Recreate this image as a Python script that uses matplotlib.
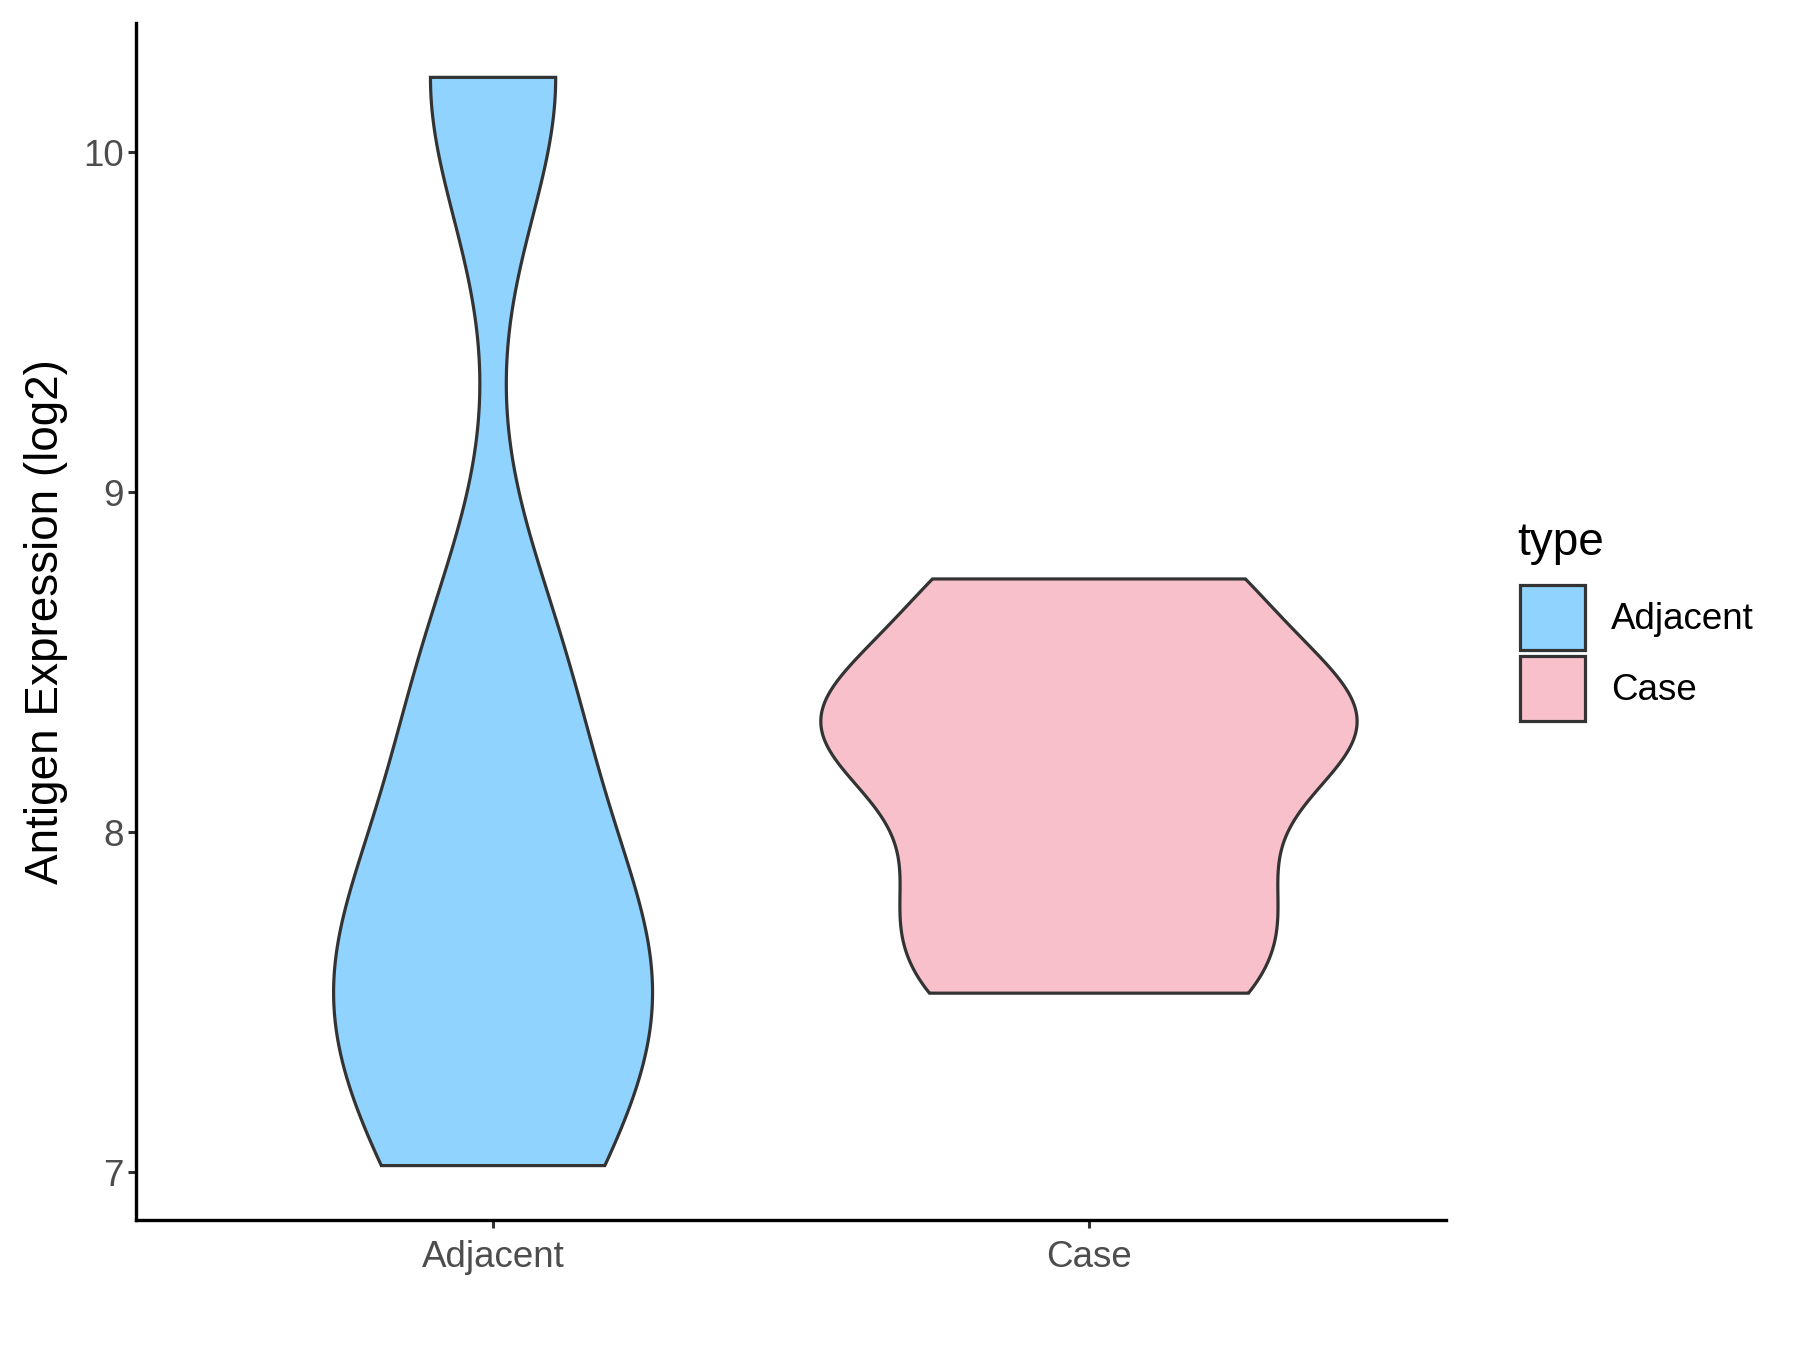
import numpy as np
import matplotlib
matplotlib.use('Agg')
import matplotlib.pyplot as plt
from matplotlib.patches import Patch

# sample values (log2 expression) per group
groups = ['Adjacent', 'Case']
adjacent = [7.02, 7.541, 7.673, 8.415, 10.22]
case = [7.527, 7.852, 8.309, 8.322, 8.745]
fills = ['#90D3FE', '#F7C0CB']
yticks = [7, 8, 9, 10]


def nrd0(x):
    # R's default bandwidth
    n = len(x)
    sd = x.std(ddof=1)
    q75, q25 = np.percentile(x, [75, 25])
    return 0.9 * min(sd, (q75 - q25) / 1.34) * n ** -0.2


def kde(x):
    x = np.asarray(x, dtype=float)
    h = nrd0(x)
    y = np.linspace(x.min(), x.max(), 512)
    z = (y[:, None] - x[None, :]) / h
    d = np.exp(-0.5 * z ** 2).sum(1) / (len(x) * h * np.sqrt(2 * np.pi))
    return y, d


plt.rcParams['font.family'] = ['Liberation Sans', 'DejaVu Sans']
fig = plt.figure(figsize=(18, 13.5), dpi=100)
ax = fig.add_axes([0.0753, 0.0963, 0.7283, 0.8867])

dens = [kde(v) for v in (adjacent, case)]
dmax = max(d.max() for _, d in dens)  # scale = "area"
for i, ((y, d), col) in enumerate(zip(dens, fills)):
    w = 0.45 * d / dmax
    xs = np.r_[i + 1 - w, (i + 1 + w)[::-1]]
    ys = np.r_[y, y[::-1]]
    ax.fill(xs, ys, facecolor=col, edgecolor='#333333', lw=2.3, joinstyle='miter')

ax.set_xlim(0.4, 2.6)
ax.set_ylim(6.86, 10.38)
ax.set_xticks([1, 2])
ax.set_xticklabels(groups)
ax.set_yticks(yticks)
for s in ['top', 'right']:
    ax.spines[s].set_visible(False)
for s in ['left', 'bottom']:
    ax.spines[s].set_linewidth(2.4)
    ax.spines[s].set_color('black')
ax.tick_params(length=5.5, width=2.2, color='#333333', labelcolor='#4D4D4D',
               labelsize=26.5)
ax.tick_params(axis='x', pad=9)
ax.tick_params(axis='y', pad=3)
ax.set_ylabel('Antigen Expression (log2)', fontsize=33, labelpad=11)

# legend: title drawn separately so the gap above the keys matches
fig.text(0.8431, 0.598, 'type', fontsize=33, ha='left', va='center')
handles = [Patch(facecolor=c, edgecolor='#333333', lw=2.3) for c in fills]
leg = fig.legend(handles, groups, loc='upper left',
                 bbox_to_anchor=(0.8342, 0.5802), frameon=False, fontsize=26.5,
                 handlelength=1.78, handleheight=2.35,
                 labelspacing=0.15, handletextpad=0.7, borderpad=0)

fig.savefig('out.png')
